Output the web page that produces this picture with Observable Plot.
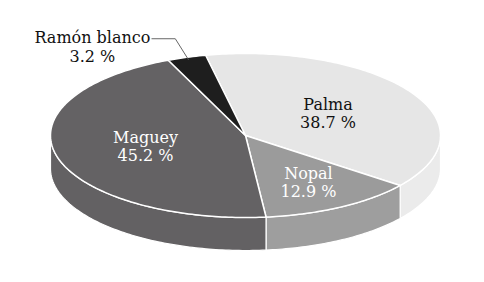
<!DOCTYPE html>
<html><head><meta charset="utf-8">
<script src="https://cdn.jsdelivr.net/npm/d3@7"></script>
<script src="https://cdn.jsdelivr.net/npm/@observablehq/plot@0.6"></script>
<style>html,body{margin:0;padding:0;background:#fff;}</style>
</head><body><div id="chart"></div>
<script>
// ---- data ----
const categories = ["Palma", "Nopal", "Maguey", "Ramón blanco"];
const values = [38.7, 12.9, 45.2, 3.2];
const valueLabels = ["38.7 %", "12.9 %", "45.2 %", "3.2 %"];

// ---- styling / layout ----
const topColors = ["#e6e6e6", "#9b9b9b", "#646264", "#1e1e1e"];
const sideColors = ["#ebebeb", "#9e9e9e", "#636163", "#1e1e1e"];
const textColors = ["#111111", "#ffffff", "#ffffff", "#111111"];
const labelRadius = [0.5, 0.66, 0.53, null];
const startDeg = -11.8;      // clockwise from top
const depth = 33 / 82;       // side thickness in y units
const callout = {edgeR: 0.97, elbow: [-0.36, 1.18], end: [-0.48, 1.18], text: [-0.785, 1.09]};
const FONT = "DejaVu Serif";

const total = d3.sum(values);
let acc = startDeg;
const slices = values.map((v, i) => {
  const a = acc, b = acc + v / total * 360;
  acc = b;
  return {i, a, b, mid: (a + b) / 2};
});

function arc(a, b, dy = 0, r = 1) {
  const n = Math.max(2, Math.ceil(Math.abs(b - a)));
  return d3.range(n + 1).map(k => {
    const t = (a + (b - a) * k / n) * Math.PI / 180;
    return {x: r * Math.sin(t), y: r * Math.cos(t) - dy};
  });
}

const marks = [];
slices.forEach(s => {
  const lo = Math.max(s.a, 90), hi = Math.min(s.b, 270);
  if (hi > lo) {
    const pts = arc(lo, hi, 0).concat(arc(hi, lo, depth));
    pts.push(pts[0]);
    marks.push(Plot.line(pts, {x: "x", y: "y", fill: sideColors[s.i], stroke: "white", strokeWidth: 1.2, curve: "linear"}));
  }
});
slices.forEach(s => {
  const pts = [{x: 0, y: 0}].concat(arc(s.a, s.b, 0), [{x: 0, y: 0}]);
  marks.push(Plot.line(pts, {x: "x", y: "y", fill: topColors[s.i], stroke: "white", strokeWidth: 1.5, strokeLinejoin: "round", curve: "linear"}));
});

const inside = slices.filter(s => labelRadius[s.i] != null).map(s => {
  const t = s.mid * Math.PI / 180, r = labelRadius[s.i];
  return {x: r * Math.sin(t), y: r * Math.cos(t), text: categories[s.i] + "\n" + valueLabels[s.i], color: textColors[s.i]};
});
marks.push(Plot.text(inside, {x: "x", y: "y", text: "text", fill: "color", fontSize: 16, fontFamily: FONT, lineHeight: 1.12, lineAnchor: "middle"}));

slices.filter(s => labelRadius[s.i] == null).forEach(s => {
  const t = s.mid * Math.PI / 180;
  const pts = [
    {x: callout.edgeR * Math.sin(t), y: callout.edgeR * Math.cos(t)},
    {x: callout.elbow[0], y: callout.elbow[1]},
    {x: callout.end[0], y: callout.end[1]}
  ];
  marks.push(Plot.line(pts, {x: "x", y: "y", stroke: "#555", strokeWidth: 0.9}));
  marks.push(Plot.text([{x: callout.text[0], y: callout.text[1], text: categories[s.i] + "\n" + valueLabels[s.i]}],
    {x: "x", y: "y", text: "text", fill: textColors[s.i], fontSize: 16, fontFamily: FONT, lineHeight: 1.18, lineAnchor: "middle"}));
});

const chart = Plot.plot({
  width: 484, height: 282, margin: 0,
  x: {domain: [-1, 1], range: [50, 440], axis: null},
  y: {domain: [-1, 1], range: [217, 53], axis: null},
  style: {background: "white", overflow: "visible"},
  marks
});
document.getElementById("chart").appendChild(chart);
</script>
</body></html>
